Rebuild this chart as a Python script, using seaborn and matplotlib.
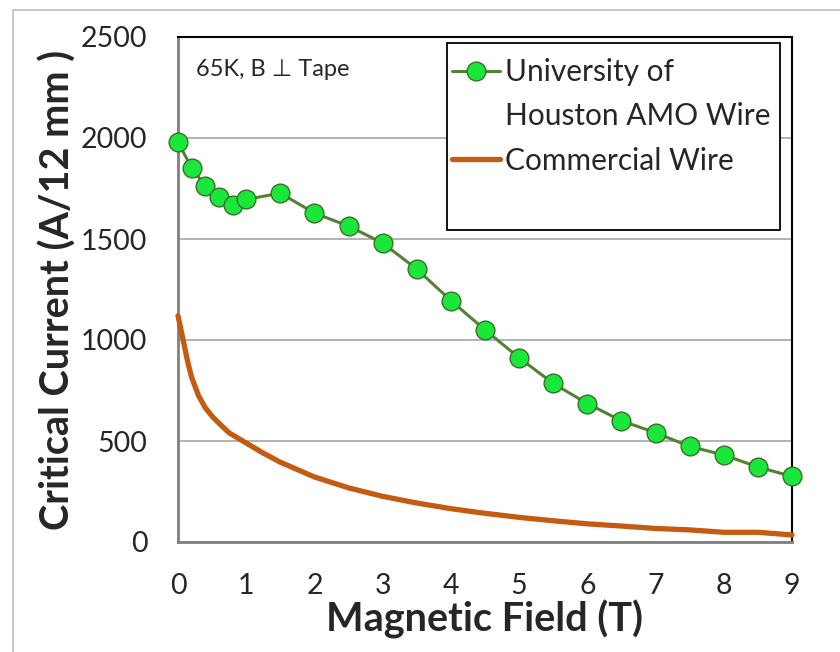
import matplotlib
matplotlib.use("Agg")
import matplotlib.pyplot as plt
import seaborn as sns
import pandas as pd
from matplotlib.lines import Line2D
from matplotlib.patches import Rectangle

# ---- data ----
uh_field = [0, 0.2, 0.4, 0.6, 0.8, 1.0, 1.5, 2, 2.5, 3, 3.5, 4, 4.5, 5, 5.5, 6, 6.5, 7, 7.5, 8, 8.5, 9]
uh_ic = [1979, 1852, 1762, 1706, 1670, 1696, 1727, 1628, 1564, 1480, 1351, 1195, 1050, 912, 785, 685, 600, 541, 473, 431, 371, 325]

com_field = [0, 0.05, 0.1, 0.15, 0.2, 0.3, 0.4, 0.5, 0.6, 0.75, 1.0, 1.25, 1.5, 2, 2.5, 3, 3.5, 4, 4.5, 5, 5.5, 6, 6.5, 7, 7.5, 8, 8.5, 9]
com_ic = [1120, 1040, 960, 880, 815, 725, 665, 622, 588, 540, 490, 440, 395, 322, 268, 226, 193, 165, 142, 122, 105, 90, 79, 67, 60, 48, 48, 35]

uh_label_1 = "University of"
uh_label_2 = "Houston AMO Wire"
com_label = "Commercial Wire"
x_ticks = list(range(0, 10))
y_ticks = [0, 500, 1000, 1500, 2000, 2500]

sns.set_style("white")
plt.rcParams['font.family'] = ['Lato', 'DejaVu Sans']

fig = plt.figure(figsize=(8.4, 6.52), dpi=100)
ax = fig.add_axes([178/840, 1-542/652, (792-178)/840, (542-37)/652])

uh_df = pd.DataFrame({"field": uh_field, "ic": uh_ic})
com_df = pd.DataFrame({"field": com_field, "ic": com_ic})

green_line = "#548235"
green_face = "#19E83A"
green_edge = "#3B6E2A"
orange = "#C55A11"

sns.lineplot(data=com_df, x="field", y="ic", ax=ax, color=orange, linewidth=3.8,
             zorder=3, clip_on=False)
sns.lineplot(data=uh_df, x="field", y="ic", ax=ax, color=green_line, linewidth=2.2,
             marker="o", markersize=13.5, markerfacecolor=green_face,
             markeredgecolor=green_edge, markeredgewidth=1.0, zorder=4, clip_on=False)

ax.set_xlim(0, 9)
ax.set_ylim(0, 2500)
ax.set_xticks(x_ticks)
ax.set_yticks(y_ticks)
ax.tick_params(axis='both', length=0, labelsize=20.5)
ax.tick_params(axis='x', pad=22)
ax.tick_params(axis='y', pad=22)
ax.yaxis.grid(True, color="#A6A6A6", linewidth=1.2)
ax.xaxis.grid(False)
ax.set_axisbelow(True)

for s in ["left", "bottom"]:
    ax.spines[s].set_color("#7F7F7F")
    ax.spines[s].set_linewidth(2.0)
for s in ["top", "right"]:
    ax.spines[s].set_color("black")
    ax.spines[s].set_linewidth(1.5)

ax.set_xlabel("Magnetic Field (T)", fontsize=28.5, fontweight="bold", labelpad=1)
ax.set_ylabel("Critical Current (A/12 mm )", fontsize=28.5, fontweight="bold", labelpad=3)

ax.text(0.03, 0.935, "65K, B \u22a5 Tape", transform=ax.transAxes, fontsize=17,
        family=['Lato', 'DejaVu Sans'], va="center", ha="left")

# legend frame
ax.add_patch(Rectangle(((447-178)/614, 1 - (230-37)/505), (780-447)/614, (230-43)/505,
                       transform=ax.transAxes, facecolor="white", edgecolor="black",
                       linewidth=1.3, zorder=5))

handles = [
    Line2D([], [], color=green_line, linewidth=2.2, marker="o", markersize=13.5,
           markerfacecolor=green_face, markeredgecolor=green_edge, markeredgewidth=1.0),
    Line2D([], [], color="none"),
    Line2D([], [], color=orange, linewidth=3.8),
]
leg = ax.legend(handles, [uh_label_1, uh_label_2, com_label], loc="upper left",
                bbox_to_anchor=((452-178)/614, 1 - (58-37)/505), frameon=False,
                fontsize=21.5, handlelength=1.6, handletextpad=0.18, labelspacing=0.55,
                borderaxespad=0, borderpad=0)
leg.set_zorder(6)

# outer frame
fig.patches.append(Rectangle((13/840, -0.1), 1.2, 1 - 10/652 + 0.1, transform=fig.transFigure,
                             facecolor="none", edgecolor="#BFBFBF", linewidth=1.2))

fig.savefig("out.png", dpi=100)
